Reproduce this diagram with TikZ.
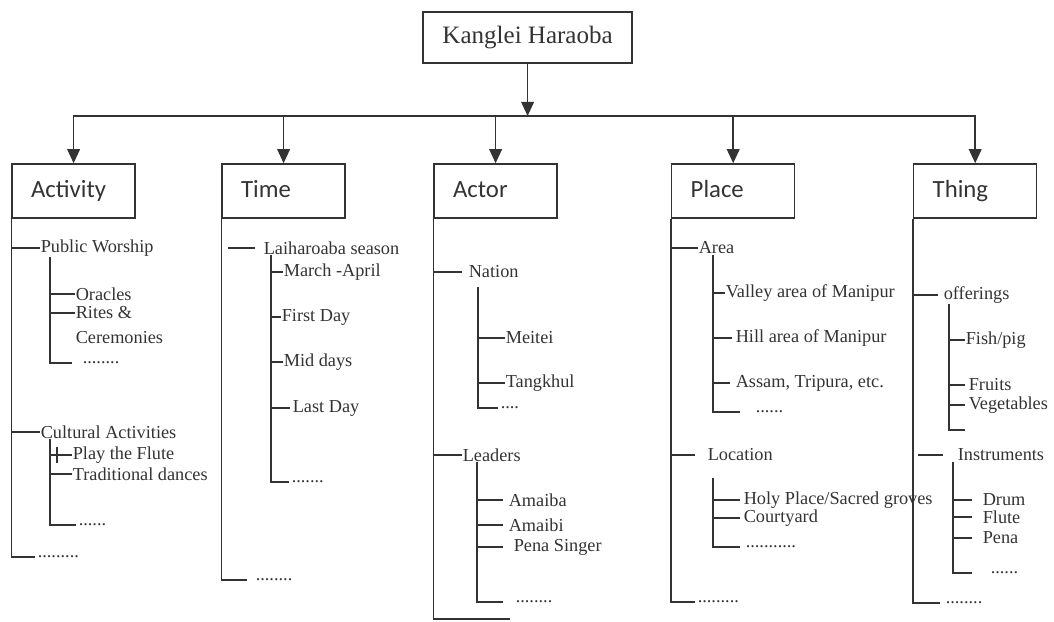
\documentclass[tikz,border=0pt]{standalone}
\usepackage{fontspec}
\setmainfont{Liberation Serif}
\newfontfamily\boxfont{Carlito}
\usepackage{tikz}
\usetikzlibrary{arrows.meta}
\tikzset{>={Triangle[length=10pt, width=9pt]}}
\tikzset{topbox/.style={rectangle, draw, minimum width=5.225cm,
minimum height=1.275cm, font=\fontsize{17.8}{20}\selectfont}}
\tikzset{head/.style={rectangle, draw, minimum height=1.35cm,
text width=2.125cm, inner xsep=.475cm, align=left,
text height=1.15em, text depth=.23em,
font=\boxfont\fontsize{17.6}{20}\selectfont}}
\tikzset{item/.style={anchor=west, inner sep=0pt, font=\fontsize{13}{15}\selectfont}}

\begin{document}
\begin{tikzpicture}[
line width=1.1pt, color=black!80
]
\useasboundingbox (0,0) rectangle (26.35,-15.525);

\node [topbox] (kh) at (13.19,-0.94) {Kanglei Haraoba};

\node [head] (Activity) at (1.84,-4.775) {Activity};
\node [head] (Time) at (7.09,-4.775) {Time};
\node [head] (Actor) at (12.39,-4.775) {Actor};
\node [head] (Place) at (18.33,-4.775) {Place};
\node [head] (Thing) at (24.38,-4.775) {Thing};

\coordinate (bar) at (13.19,-2.9);
\draw [->] (kh) -- (bar);
\foreach \h in {Activity, Time, Actor, Place, Thing}
    \draw [->] (bar) -| (\h);

\node [item] (pw) at (1.0,-6.2) {Public Worship};
\node [item] (orc) at (1.875,-7.35) {Oracles};
\node [item] (rit) at (1.875,-7.825) {Rites \&};
\node [item] (cer) at (1.875,-8.45) {Ceremonies};
\node [item] (pwd) at (2.05,-9.075) {........};
\node [item] (ca) at (1.0,-10.8) {Cultural Activities};
\node [item] (ptf) at (1.8,-11.375) {Play the Flute};
\node [item] (trd) at (1.8,-11.85) {Traditional dances};
\node [item] (cad) at (1.95,-13.125) {......};
\node [item] (ad) at (0.925,-13.925) {.........};

\draw [] (Activity.south west) |- ([xshift=-.05cm]ad.west);
\draw [] (Activity.south west |- pw) -- (pw.west);
\draw [] (Activity.south west |- ca) -- (ca.west);
\coordinate (a1) at ([xshift=.25cm]pw.south west);
\draw [] (a1) |- ([xshift=-.25cm]pwd.west);
\draw [] (a1 |- orc) -- (orc.west);
\draw [] (a1 |- rit) -- (rit.west);
\coordinate (a2) at ([xshift=.25cm]ca.south west);
\draw [] (a2) |- ([xshift=-.05cm]cad.west);
\draw [] (a2 |- ptf) -- (ptf.west);
\draw [] ([xshift=-.375cm, yshift=.2cm]ptf.west) -- ([xshift=-.375cm, yshift=-.2cm]ptf.west);
\draw [] (a2 |- trd) -- (trd.west);

\node [item] (ls) at (6.575,-6.2) {Laiharoaba season};
\node [item] (ma) at (7.075,-6.8) {March -April};
\node [item] (fd) at (7.025,-7.925) {First Day};
\node [item] (md) at (7.075,-9.05) {Mid days};
\node [item] (ld) at (7.3,-10.2) {Last Day};
\node [item] (lsd) at (7.275,-12.05) {.......};
\node [item] (td) at (6.375,-14.5) {........};

\draw [] (Time.south west) |- ([xshift=-.2cm]td.west);
\draw [] ([xshift=-.2cm]ls.west) -- ([xshift=-.875cm]ls.west);
\coordinate (t1) at ([xshift=.2cm]ls.south west);
\draw [] (t1) |- ([xshift=-.05cm]lsd.west);
\draw [] (t1 |- ma) -- (ma.west);
\draw [] (t1 |- fd) -- (fd.west);
\draw [] (t1 |- md) -- (md.west);
\draw [] (t1 |- ld) -- ([xshift=-.05cm]ld.west);

\node [item] (na) at (11.7,-6.8) {Nation};
\node [item] (me) at (12.625,-8.45) {Meitei};
\node [item] (tk) at (12.625,-9.575) {Tangkhul};
\node [item] (nad) at (12.5,-10.2) {....};
\node [item] (le) at (11.55,-11.375) {Leaders};
\node [item] (amb) at (12.7,-12.5) {Amaiba};
\node [item] (ami) at (12.7,-13.125) {Amaibi};
\node [item] (ps) at (12.825,-13.675) {Pena Singer};
\node [item] (led) at (12.875,-15.05) {........};
\coordinate (ab) at (12.75,-15.48);

\draw [] (Actor.south west) |- (ab);
\draw [] (Actor.south west |- na) -- ([xshift=-.15cm]na.west);
\draw [] (Actor.south west |- le) -- (le.west);
\coordinate (c1) at ([xshift=.25cm, yshift=-.2cm]na.south west);
\draw [] (c1) |- ([xshift=-.05cm]nad.west);
\draw [] (c1 |- me) -- (me.west);
\draw [] (c1 |- tk) -- (tk.west);
\coordinate (c2) at ([xshift=.375cm]le.south west);
\draw [] (c2) |- ([xshift=-.3cm]led.west);
\draw [] (c2 |- amb) -- ([xshift=-.125cm]amb.west);
\draw [] (c2 |- ami) -- ([xshift=-.125cm]ami.west);
\draw [] (c2 |- ps) -- ([xshift=-.25cm]ps.west);

\node [item] (ar) at (17.45,-6.2) {Area};
\node [item] (va) at (18.125,-7.325) {Valley area of Manipur};
\node [item] (ha) at (18.375,-8.45) {Hill area of Manipur};
\node [item] (as) at (18.375,-9.575) {Assam, Tripura, etc.};
\node [item] (ard) at (18.875,-10.3) {......};
\node [item] (lo) at (17.675,-11.375) {Location};
\node [item] (hp) at (18.575,-12.5) {Holy Place/Sacred groves};
\node [item] (cy) at (18.575,-12.95) {Courtyard};
\node [item] (lod) at (18.625,-13.675) {...........};
\node [item] (pd) at (17.425,-15.05) {.........};

\draw [] (Place.south west) |- ([xshift=-.05cm]pd.west);
\draw [] (Place.south west |- ar) -- (ar.west);
\draw [] (Place.south west |- lo) -- ([xshift=-.3cm]lo.west);
\coordinate (p1) at ([xshift=.375cm]ar.south west);
\draw [] (p1) |- ([xshift=-.375cm]ard.west);
\draw [] (p1 |- va) -- (va.west);
\draw [] (p1 |- ha) -- ([xshift=-.075cm]ha.west);
\draw [] (p1 |- as) -- ([xshift=-.125cm]as.west);
\coordinate (p2) at ([xshift=.15cm, yshift=-.4cm]lo.south west);
\draw [] (p2) |- ([xshift=-.125cm]lod.west);
\draw [] (p2 |- hp) -- ([xshift=-.075cm]hp.west);
\draw [] (p2 |- cy) -- ([xshift=-.075cm]cy.west);

\node [item] (of) at (23.575,-7.375) {offerings};
\node [item] (fp) at (24.125,-8.5) {Fish/pig};
\node [item] (fr) at (24.2,-9.625) {Fruits};
\node [item] (vg) at (24.2,-10.125) {Vegetables};
\coordinate (ofe) at (24.125,-10.75);
\node [item] (ins) at (23.925,-11.375) {Instruments};
\node [item] (dr) at (24.55,-12.5) {Drum};
\node [item] (fl) at (24.55,-12.925) {Flute};
\node [item] (pe) at (24.55,-13.45) {Pena};
\node [item] (insd) at (24.75,-14.325) {......};
\node [item] (thd) at (23.625,-15.075) {........};

\draw [] (Thing.south west) |- ([xshift=-.125cm]thd.west);
\draw [] (Thing.south west |- of) -- ([xshift=-.125cm]of.west);
\draw [] ([xshift=-.35cm]ins.west) -- ([xshift=-.975cm]ins.west);
\coordinate (h1) at ([xshift=.15cm]of.south west);
\draw [] (h1) |- (ofe);
\draw [] (h1 |- fp) -- (fp.west);
\draw [] (h1 |- fr) -- ([xshift=-.075cm]fr.west);
\draw [] (h1 |- vg) -- ([xshift=-.075cm]vg.west);
\coordinate (h2) at ([xshift=-.1cm]ins.south west);
\draw [] (h2) |- ([xshift=-.45cm]insd.west);
\draw [] (h2 |- dr) -- ([xshift=-.25cm]dr.west);
\draw [] (h2 |- fl) -- ([xshift=-.25cm]fl.west);
\draw [] (h2 |- pe) -- ([xshift=-.25cm]pe.west);

\end{tikzpicture}
\end{document}
